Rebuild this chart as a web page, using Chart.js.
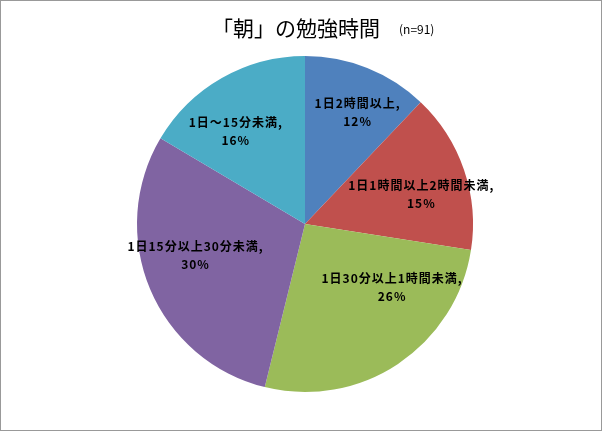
<!DOCTYPE html>
<html>
<head>
<meta charset="utf-8">
<script src="https://cdn.jsdelivr.net/npm/chart.js@4"></script>
<style>
  html, body { margin: 0; padding: 0; background: #fff; }
  #wrap { position: absolute; left: 0; top: 0; width: 602px; height: 431px; box-sizing: border-box; border: 1px solid #999; background: #fff; }
  #c { display: block; }
</style>
</head>
<body>
<div id="wrap"><canvas id="c" width="600" height="429"></canvas></div>
<script>
// ---- data ----
const categories = ["1日2時間以上", "1日1時間以上2時間未満", "1日30分以上1時間未満", "1日15分以上30分未満", "1日～15分未満"];
const counts = [11, 14, 24, 27, 15];           // n = 91
const percentLabels = ["12%", "15%", "26%", "30%", "16%"];
const colors = ["#4F81BD", "#C0504D", "#9BBB59", "#8064A2", "#4BACC6"];
const titleText = "「朝」の勉強時間";
const subText = "(n=91)";
// label placement nudges (px) relative to the arc mid-angle position
const labelNudge = [[9, -2], [5, 8], [22, -34], [-1, -14], [-11, 10]];

const FONT = "'Noto Sans CJK JP', 'Noto Sans', sans-serif";

const labelPlugin = {
  id: 'pieLabels',
  afterDatasetsDraw(chart) {
    const ctx = chart.ctx;
    const meta = chart.getDatasetMeta(0);
    ctx.save();
    ctx.fillStyle = '#000';
    ctx.font = "bold 12px " + FONT;
    ctx.textAlign = 'center';
    ctx.textBaseline = 'middle';
    try { ctx.letterSpacing = '1px'; } catch (e) {}
    meta.data.forEach((arc, i) => {
      const p = arc.getProps(['x', 'y', 'startAngle', 'endAngle', 'outerRadius'], true);
      const mid = (p.startAngle + p.endAngle) / 2;
      const rr = p.outerRadius * 0.7;
      const x = p.x + Math.cos(mid) * rr + labelNudge[i][0];
      const y = p.y + Math.sin(mid) * rr + labelNudge[i][1];
      ctx.fillText(categories[i] + ",", x, y - 9);
      ctx.fillText(percentLabels[i], x, y + 9);
    });
    ctx.restore();
  },
  afterDraw(chart) {
    const ctx = chart.ctx;
    ctx.save();
    ctx.fillStyle = '#000';
    ctx.textBaseline = 'middle';
    ctx.textAlign = 'center';
    ctx.font = "21px " + FONT;
    ctx.fillText(titleText, 295, 27);
    ctx.font = "12px " + FONT;
    ctx.textAlign = 'left';
    ctx.fillText(subText, 398, 28);
    ctx.restore();
  }
};

new Chart(document.getElementById('c'), {
  type: 'pie',
  data: {
    labels: categories,
    datasets: [{
      data: counts,
      backgroundColor: colors,
      borderWidth: 0
    }]
  },
  options: {
    responsive: false,
    animation: false,
    layout: { padding: { top: 55, bottom: 38, left: 8, right: 0 } },
    plugins: {
      legend: { display: false },
      title: { display: false },
      tooltip: { enabled: false }
    }
  },
  plugins: [labelPlugin]
});
</script>
</body>
</html>
